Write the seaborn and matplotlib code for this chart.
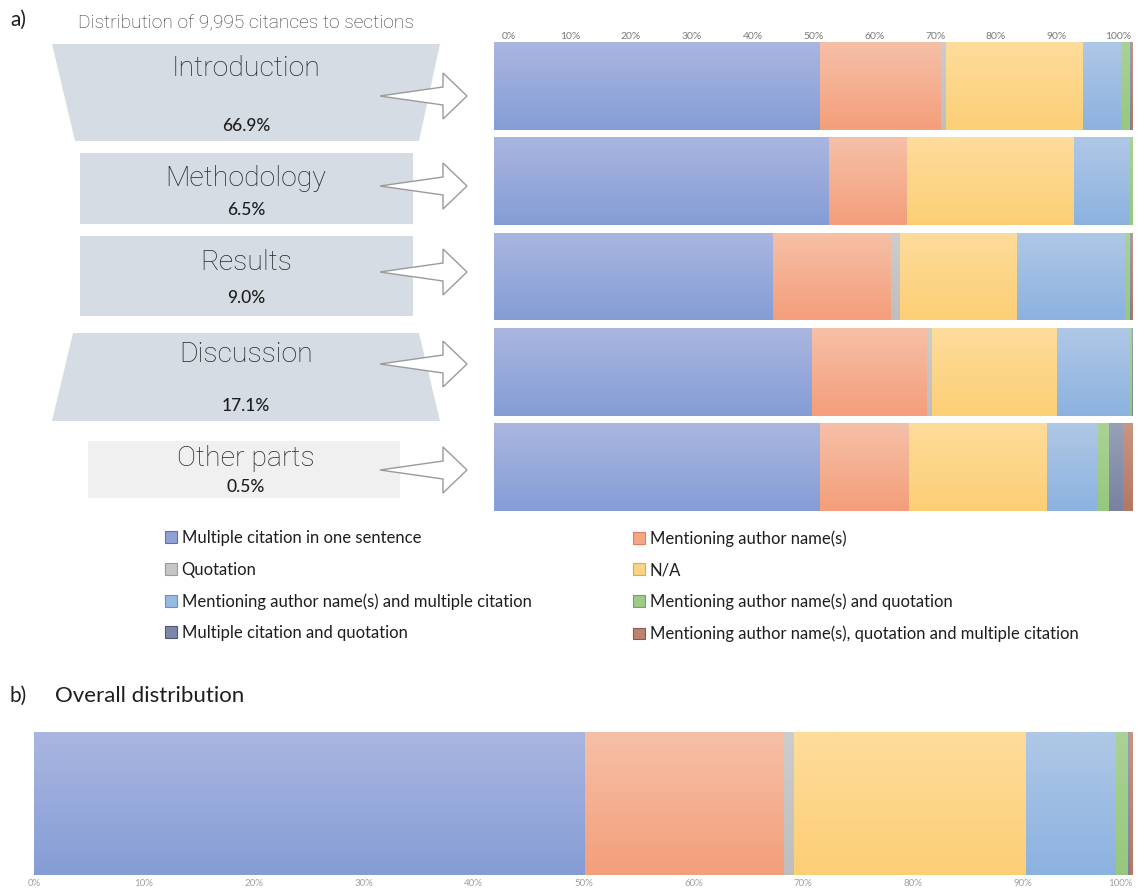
import numpy as np
import pandas as pd
import matplotlib
matplotlib.use("Agg")
import matplotlib.pyplot as plt
import seaborn as sns
from matplotlib.patches import Polygon, Patch
from matplotlib.colors import to_rgb

# ---------------------------------------------------------------- data
sections = ["Introduction", "Methodology", "Results", "Discussion", "Other parts"]
section_share = ["66.9%", "6.5%", "9.0%", "17.1%", "0.5%"]

citation_types = [
    "Multiple citation in one sentence",
    "Mentioning author name(s)",
    "Quotation",
    "N/A",
    "Mentioning author name(s) and multiple citation",
    "Mentioning author name(s) and quotation",
    "Multiple citation and quotation",
    "Mentioning author name(s), quotation and multiple citation",
]

# share (%) of each citation type within each section
multiple_citation = [51.0, 52.3, 43.6, 49.7, 51.0]
author_name = [18.8, 12.2, 18.5, 18.0, 13.8]
quotation = [0.9, 0.1, 1.4, 0.7, 0.0]
not_applicable = [21.4, 26.1, 18.2, 19.7, 21.7]
author_and_multiple = [5.9, 8.8, 17.0, 11.4, 7.9]
author_and_quotation = [1.4, 0.5, 0.8, 0.3, 1.8]
multiple_and_quotation = [0.3, 0.0, 0.3, 0.2, 2.1]
author_quotation_multiple = [0.3, 0.0, 0.2, 0.0, 1.7]

# overall share (%) of each citation type
overall_share = [50.1, 18.1, 0.9, 21.1, 8.2, 1.1, 0.2, 0.3]

x_ticks = [0, 10, 20, 30, 40, 50, 60, 70, 80, 90, 100]

# gradient fills (top colour, bottom colour) per citation type
fills = [
    ("#aab6e0", "#859dd6"),
    ("#f6c0a8", "#f49e7a"),
    ("#cdcdcd", "#bebebe"),
    ("#fedc9b", "#fccf76"),
    ("#afc8e6", "#8cb2e0"),
    ("#aad296", "#96c87d"),
    ("#98a0b9", "#7882a0"),
    ("#c89682", "#b47864"),
]
legend_faces = ["#8ea2d8", "#f4a886", "#c6c6c6", "#fdd383", "#97b9e2", "#9ccb86", "#7d87a6", "#bb8471"]
legend_edges = ["#5d73b5", "#d9825c", "#9a9a9a", "#d8ad50", "#6a90c4", "#6fa558", "#4f5878", "#8f5644"]

section_values = [multiple_citation, author_name, quotation, not_applicable,
                  author_and_multiple, author_and_quotation,
                  multiple_and_quotation, author_quotation_multiple]

section_frame = pd.DataFrame(
    [(s, k, vals[i]) for k, vals in enumerate(section_values) for i, s in enumerate(sections)],
    columns=["section", "kind", "share"],
)
overall_frame = pd.DataFrame(
    [("Overall", k, v) for k, v in enumerate(overall_share)],
    columns=["section", "kind", "share"],
)

# ---------------------------------------------------------------- style
sns.set_theme(style="white")
plt.rcParams["font.family"] = ["Lato", "DejaVu Sans"]
THIN = ["Roboto", "Lato", "DejaVu Sans"]

W, H = 1138, 892
fig = plt.figure(figsize=(W / 100, H / 100), dpi=100)


def stacked_gradient_bars(ax, frame, order, width):
    """Stacked horizontal bars: cumulative totals drawn back to front,
    each filled with a vertical gradient."""
    z = 1.0
    for k in range(len(citation_types) - 1, -1, -1):
        cum = (frame[frame["kind"] <= k]
               .groupby("section", sort=False)["share"].sum()
               .reindex(order).reset_index())
        before = len(ax.patches)
        sns.barplot(data=cum, x="share", y="section", order=order, orient="h",
                    color=fills[k][1], width=width, errorbar=None,
                    saturation=1, ax=ax)
        top = np.array(to_rgb(fills[k][0]))
        bot = np.array(to_rgb(fills[k][1]))
        grad = top + (bot - top) * np.linspace(0, 1, 128)[:, None, None]
        for p in ax.patches[before:]:
            x0, y0 = p.get_x(), p.get_y()
            w, h = p.get_width(), p.get_height()
            if w <= 0:
                continue
            im = ax.imshow(grad, extent=(x0, x0 + w, y0 + h, y0), aspect="auto",
                           origin="upper", interpolation="bilinear", zorder=z)
            im.set_clip_path(p)
            p.set_facecolor("none")
            p.set_linewidth(0)
            z += 0.01


# ---------------------------------------------------------------- canvas for funnel
bg = fig.add_axes([0, 0, 1, 1], zorder=0)
bg.set_xlim(0, W)
bg.set_ylim(H, 0)
bg.axis("off")

funnel_shapes = [
    [(52, 44), (440, 44), (419, 141), (75, 141)],
    [(80, 153), (413, 153), (413, 224), (80, 224)],
    [(80, 236), (413, 236), (413, 316), (80, 316)],
    [(73, 333), (419, 333), (440, 421), (52, 421)],
    [(88, 441), (400, 441), (400, 498), (88, 498)],
]
funnel_colors = ["#d6dce4", "#d6dce4", "#d6dce4", "#d6dce4", "#f0f0f0"]
name_y = [68, 178, 263, 355, 459]
share_y = [126, 210, 298, 406, 487]
arrow_y = [96, 186, 272, 364, 470]

for shape, col in zip(funnel_shapes, funnel_colors):
    bg.add_patch(Polygon(shape, closed=True, facecolor=col, edgecolor="none"))

for name, share, ny, sy in zip(sections, section_share, name_y, share_y):
    bg.text(246, ny, name, ha="center", va="center", fontsize=20.5,
            family=THIN, fontweight="light", color="#262626")
    bg.text(246, sy, share, ha="center", va="center", fontsize=12.5,
            fontweight="medium", color="#1e1e1e")

for cy in arrow_y:
    arrow = [(380, cy), (443, cy - 9), (443, cy - 23), (467, cy),
             (443, cy + 23), (443, cy + 9)]
    bg.add_patch(Polygon(arrow, closed=True, facecolor="white",
                         edgecolor="#9a9a9a", linewidth=1.0))

bg.text(10, 20, "a)", ha="left", va="center", fontsize=15, color="#1e1e1e")
bg.text(78, 22, "Distribution of 9,995 citances to sections", ha="left",
        va="center", fontsize=13.8, family=THIN, fontweight="light", color="#333333")
bg.text(10, 696, "b)", ha="left", va="center", fontsize=15, color="#1e1e1e")
bg.text(55, 696, "Overall distribution", ha="left", va="center",
        fontsize=16, color="#1e1e1e")

# ---------------------------------------------------------------- section bars
ax = fig.add_axes([494 / W, 1 - 511 / H, 639 / W, 469 / H], zorder=1)
stacked_gradient_bars(ax, section_frame, sections, 0.92)
ax.set_xlim(0, 100)
ax.set_ylim(4.46, -0.46)
ax.set_xticks([])
ax.set_yticks([])
ax.set_xlabel("")
ax.set_ylabel("")
for s in ax.spines.values():
    s.set_visible(False)

ax_top = ax.twiny()
ax_top.set_xlim(-2.5, 102.5)
ax_top.set_xticks(x_ticks)
ax_top.set_xticklabels([f"{t}%" for t in x_ticks], fontsize=7.5, color="#7a7a7a")
ax_top.tick_params(axis="x", length=0, pad=1)
ax_top.set_yticks([])
for s in ax_top.spines.values():
    s.set_visible(False)

# ---------------------------------------------------------------- legend
handles = [Patch(facecolor=f, edgecolor=e, linewidth=0.8)
           for f, e in zip(legend_faces, legend_edges)]
legend_kw = dict(frameon=False, fontsize=12, handlelength=0.7, handleheight=0.7,
                 handletextpad=0.3, labelspacing=0.93, borderpad=0, borderaxespad=0,
                 loc="upper left")
leg1 = fig.legend([handles[i] for i in (0, 2, 4, 6)],
                  [citation_types[i] for i in (0, 2, 4, 6)],
                  bbox_to_anchor=(165 / W, 1 - 530 / H), **legend_kw)
leg2 = fig.legend([handles[i] for i in (1, 3, 5, 7)],
                  [citation_types[i] for i in (1, 3, 5, 7)],
                  bbox_to_anchor=(633 / W, 1 - 530 / H), **legend_kw)
for leg in (leg1, leg2):
    for t in leg.get_texts():
        t.set_color("#1e1e1e")

# ---------------------------------------------------------------- overall bar
ax2 = fig.add_axes([34 / W, 1 - 875 / H, 1099 / W, 143 / H], zorder=1)
stacked_gradient_bars(ax2, overall_frame, ["Overall"], 1.0)
ax2.set_xlim(0, 100)
ax2.set_ylim(0.5, -0.5)
ax2.set_xticks(x_ticks)
ax2.set_xticklabels([f"{t}%" for t in x_ticks], fontsize=7, color="#a0a0a0")
ax2.get_xticklabels()[-1].set_horizontalalignment("right")
ax2.tick_params(axis="x", length=0, pad=3)
ax2.set_yticks([])
ax2.set_xlabel("")
ax2.set_ylabel("")
for s in ax2.spines.values():
    s.set_visible(False)

fig.savefig("out.png", dpi=100, facecolor="white")
